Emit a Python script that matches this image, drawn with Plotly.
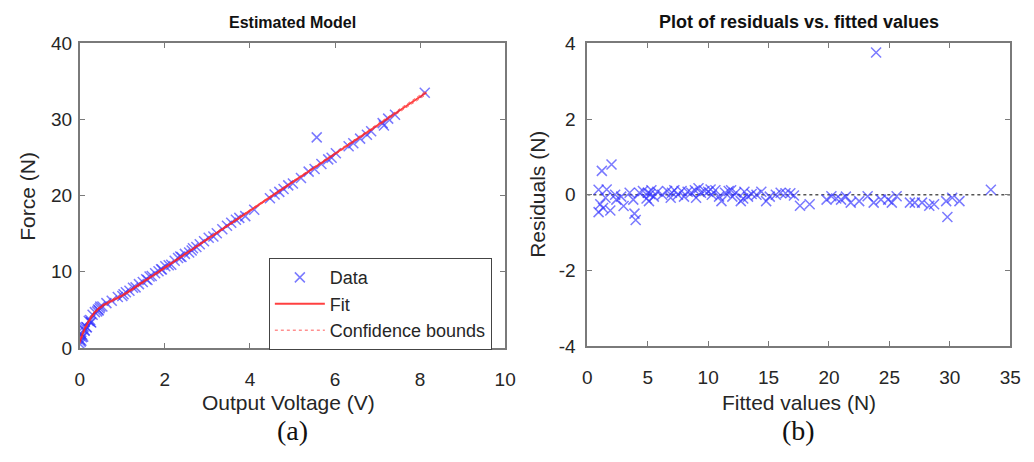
import plotly.graph_objects as go

# ---------------- data: left panel (Estimated Model) ----------------
voltage = [0.01, 0.01, 0.02, 0.03, 0.036, 0.05, 0.057, 0.079, 0.086, 0.108, 0.117, 0.15, 0.167,
           0.21, 0.244, 0.256, 0.267, 0.30,
           0.355, 0.409, 0.427, 0.445, 0.464, 0.482, 0.531, 0.625, 0.75, 0.893, 1.0, 1.028, 1.083,
           1.167, 1.25, 1.31, 1.39, 1.48, 1.56, 1.59, 1.64, 1.69, 1.77, 1.85, 1.91, 1.93, 2.01,
           2.09, 2.15, 2.23, 2.31, 2.36, 2.39, 2.47, 2.57, 2.63, 2.66, 2.74, 2.82, 2.92, 3.03,
           3.14, 3.22, 3.35, 3.46, 3.56, 3.67, 3.75,
           3.89, 4.10, 4.47, 4.58, 4.69, 4.79, 4.90, 5.01, 5.20, 5.38, 5.52, 5.57, 5.68, 5.84,
           5.92, 6.02, 6.32, 6.43, 6.59, 6.75, 6.85, 7.12, 7.15, 7.25, 7.41, 8.11]
force = [1.06, 0.47, 0.82, 1.83, 0.95, 1.42, 1.74, 1.48, 2.80, 2.30, 2.27, 2.75, 2.70,
         3.55, 3.67, 3.40, 3.33, 4.35,
         4.70, 4.80, 5.05, 4.93, 5.22, 5.42, 5.45, 5.88, 6.20, 6.70, 6.82, 7.05, 7.32,
         7.50, 7.90, 7.95, 8.38, 8.65, 9.02, 8.92, 9.37, 9.45, 9.80, 10.08, 10.34, 10.30, 10.72,
         10.85, 10.93, 11.45, 11.80, 12.02, 11.95, 12.35, 12.53, 12.80, 13.08, 13.25, 13.62, 14.00, 14.48,
         14.63, 15.05, 15.60, 16.05, 16.44, 16.84, 17.08,
         17.31, 18.15, 19.67, 20.16, 20.50, 20.87, 21.35, 21.59, 22.33, 23.16, 23.49, 27.66, 24.17, 24.77,
         24.99, 25.56, 26.49, 26.89, 27.49, 28.01, 28.45, 29.53, 29.21, 30.12, 30.63, 33.53]

fit_v = [0.0, 0.05, 0.1, 0.2, 0.3, 0.4, 0.5, 0.75, 1.0, 1.5, 2.0, 3.0, 4.0, 5.0, 6.0, 7.0, 8.15]
fit_f = [0.8, 1.6, 2.3, 3.4, 4.3, 4.95, 5.4, 6.2, 6.9, 8.7, 10.55, 14.29, 18.03, 21.77, 25.51, 29.25, 33.55]
lower_f = [0.5, 1.35, 2.05, 3.2, 4.12, 4.8, 5.24, 6.05, 6.76, 8.57, 10.43, 14.18, 17.92, 21.65, 25.37, 29.08, 33.3]
upper_f = [1.1, 1.85, 2.55, 3.6, 4.48, 5.1, 5.56, 6.35, 7.04, 8.83, 10.67, 14.4, 18.14, 21.89, 25.65, 29.42, 33.8]

# ---------------- data: right panel (residuals vs fitted) ----------------
fitted = [0.93, 0.93, 1.07, 1.2, 1.3, 1.5, 1.6, 1.9, 2.0, 2.3, 2.4, 2.8, 3.0,
          3.5, 3.8, 3.9, 4.0, 4.3,
          4.6, 4.9, 5.0, 5.1, 5.2, 5.3, 5.5, 5.8, 6.2, 6.6, 6.9, 7.0, 7.2,
          7.5, 7.8, 8.0, 8.3, 8.6, 8.9, 9.0, 9.2, 9.4, 9.7, 10.0, 10.2, 10.3, 10.6,
          10.9, 11.1, 11.4, 11.7, 11.9, 12.0, 12.3, 12.7, 12.9, 13.0, 13.3, 13.6, 14.0, 14.4,
          14.8, 15.1, 15.6, 16.0, 16.4, 16.8, 17.1,
          17.6, 18.4, 19.8, 20.2, 20.6, 21.0, 21.4, 21.8, 22.5, 23.2, 23.7, 23.9, 24.3, 24.9,
          25.2, 25.6, 26.7, 27.1, 27.7, 28.3, 28.7, 29.7, 29.8, 30.2, 30.8, 33.4]
residual = [0.13, -0.46, -0.25, 0.63, -0.35, -0.08, 0.14, -0.42, 0.80, 0.0, -0.13, -0.05, -0.30,
            0.05, -0.13, -0.50, -0.67, 0.05,
            0.10, -0.10, 0.05, -0.17, 0.02, 0.12, -0.05, 0.08, 0.0, 0.10, -0.08, 0.05, 0.12,
            0.0, 0.10, -0.05, 0.08, 0.05, 0.12, -0.08, 0.17, 0.05, 0.10, 0.08, 0.14, 0.0, 0.12,
            -0.05, -0.17, 0.05, 0.10, 0.12, -0.05, 0.05, -0.17, -0.10, 0.08, -0.05, 0.02, 0.0, 0.08,
            -0.17, -0.05, 0.0, 0.05, 0.04, 0.04, -0.02,
            -0.29, -0.25, -0.13, -0.04, -0.10, -0.13, -0.05, -0.21, -0.17, -0.04, -0.21, 3.76, -0.13, -0.13,
            -0.21, -0.04, -0.21, -0.21, -0.21, -0.29, -0.25, -0.17, -0.59, -0.08, -0.17, 0.13]
zero_x = [0, 35]
zero_y = [0, 0]

x1_ticks = [0, 2, 4, 6, 8, 10]
y1_ticks = [0, 10, 20, 30, 40]
x2_ticks = [0, 5, 10, 15, 20, 25, 30, 35]
y2_ticks = [-4, -2, 0, 2, 4]
y2_ticklabels = ["-4", "-2", "0", "2", "4"]

# ---------------- styling ----------------
W, H = 1034, 462
SANS = "Liberation Sans, Arial, sans-serif"
SERIF = "Liberation Serif, Times New Roman, serif"
AX_COL = "#7a7a7a"
TXT_COL = "#262626"
MARK_COL = "rgba(50,50,255,0.65)"
CONF_COL = "rgba(255,60,60,0.85)"

fig = go.Figure()

fig.add_trace(go.Scatter(x=voltage, y=force, mode="markers", name="Data",
                         marker=dict(symbol="x-thin-open", size=10, color=MARK_COL,
                                     line=dict(width=1.5, color=MARK_COL)),
                         xaxis="x", yaxis="y"))
fig.add_trace(go.Scatter(x=fit_v, y=fit_f, mode="lines", name="Fit",
                         line=dict(color="rgba(255,30,30,0.85)", width=2, shape="spline"),
                         xaxis="x", yaxis="y"))
fig.add_trace(go.Scatter(x=fit_v, y=lower_f, mode="lines", name="Confidence bounds",
                         line=dict(color=CONF_COL, width=1, dash="dot", shape="spline"),
                         xaxis="x", yaxis="y"))
fig.add_trace(go.Scatter(x=fit_v, y=upper_f, mode="lines", name="Confidence bounds", showlegend=False,
                         line=dict(color=CONF_COL, width=1, dash="dot", shape="spline"),
                         xaxis="x", yaxis="y"))

fig.add_trace(go.Scatter(x=zero_x, y=zero_y, mode="lines", showlegend=False,
                         line=dict(color="#555555", width=1.5, dash="dot"), xaxis="x2", yaxis="y2"))
fig.add_trace(go.Scatter(x=fitted, y=residual, mode="markers", showlegend=False,
                         marker=dict(symbol="x-thin-open", size=10, color=MARK_COL,
                                     line=dict(width=1.5, color=MARK_COL)),
                         xaxis="x2", yaxis="y2"))

def px_x(p):
    return p / W

def px_y(p):
    return 1 - p / H

axis_common = dict(showline=True, linecolor=AX_COL, linewidth=2, mirror="ticks",
                   ticks="inside", ticklen=5, tickwidth=1, tickcolor=AX_COL,
                   showgrid=False, zeroline=False,
                   tickfont=dict(family=SANS, size=19, color=TXT_COL))

fig.update_layout(
    width=W, height=H,
    margin=dict(l=0, r=0, t=0, b=0),
    paper_bgcolor="white", plot_bgcolor="white",
    xaxis=dict(domain=[px_x(76), px_x(508)], range=[0, 10], tickvals=x1_ticks,
               anchor="y", ticklabelstandoff=13, **axis_common),
    yaxis=dict(domain=[px_y(354), px_y(35)], range=[0, 40], tickvals=y1_ticks,
               anchor="x", ticklabelstandoff=2, **axis_common),
    xaxis2=dict(domain=[px_x(591.5), px_x(1021)], range=[0, 35],
                tickvals=x2_ticks, anchor="y2", ticklabelstandoff=13, **axis_common),
    yaxis2=dict(domain=[px_y(352), px_y(35)], range=[-4, 4], tickvals=y2_ticks,
                ticktext=y2_ticklabels, anchor="x2", ticklabelstandoff=6, **axis_common),
    showlegend=True,
    legend=dict(x=px_x(268), y=px_y(260), xanchor="left", yanchor="top",
                bgcolor="white", bordercolor="#444444", borderwidth=1,
                font=dict(family=SANS, size=18, color=TXT_COL),
                tracegroupgap=0, itemwidth=50),
)

def ann(text, x, y, size, family=SANS, color=TXT_COL, angle=0):
    return dict(text=text, x=px_x(x), y=px_y(y), xref="paper", yref="paper",
                xanchor="center", yanchor="middle", showarrow=False, textangle=angle,
                font=dict(family=family, size=size, color=color))

annotations = [
    ann("<b>Estimated Model</b>", 292, 13, 16, color="#111111"),
    ann("<b>Plot of residuals vs. fitted values</b>", 806, 13, 18, color="#111111"),
    ann("Output Voltage (V)", 288, 411, 21),
    ann("Fitted values (N)", 806, 411, 21),
    ann("Force (N)", 22, 195, 21, angle=-90),
    ann("Residuals (N)", 541, 193, 21, angle=-90),
    ann("(a)", 292, 441, 28, family=SERIF, color="#111111"),
    ann("(b)", 806, 441, 28, family=SERIF, color="#111111"),
]
fig.update_layout(annotations=annotations)

fig.write_html("out.html")
